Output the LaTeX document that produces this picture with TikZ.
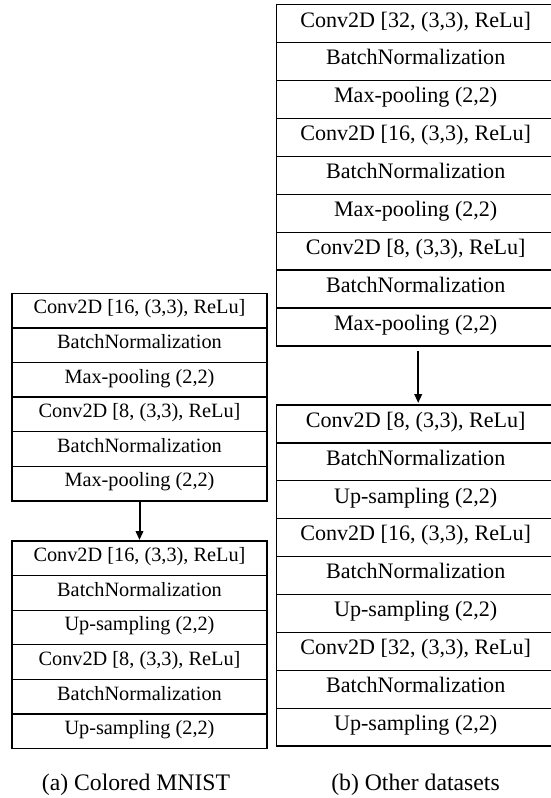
\documentclass[tikz,border=0pt]{standalone}
\usepackage{fontspec}
\setmainfont{Liberation Serif}
\usetikzlibrary{arrows.meta}
\begin{document}
\begin{tikzpicture}[x=1pt,y=-1pt,
  layer/.style={draw, line width=1.35pt, inner sep=0pt, outer sep=0pt,
    text height=0.72em, text depth=0.06em},
  rowA/.style={layer, minimum width=255pt, minimum height=34.6pt,
    font=\fontsize{20.3}{24}\selectfont},
  rowB/.style={layer, minimum width=278pt, minimum height=37.9pt,
    font=\fontsize{22.1}{26}\selectfont},
  flow/.style={-{Triangle[length=9pt,width=7.5pt]}, line width=2pt},
  caption/.style={anchor=base, inner sep=0pt, font=\fontsize{23.7}{28}\selectfont}]
\useasboundingbox (0,0) rectangle (551,798);

% (a) encoder
\foreach \t [count=\i] in {{Conv2D [16, (3,3), ReLu]}, BatchNormalization,
    {Max-pooling (2,2)}, {Conv2D [8, (3,3), ReLu]}, BatchNormalization,
    {Max-pooling (2,2)}}
  \node[rowA] (a\i) at (139.5, {293.3+(\i-0.5)*34.6}) {\t};
% (a) decoder
\foreach \t [count=\i] in {{Conv2D [16, (3,3), ReLu]}, BatchNormalization,
    {Up-sampling (2,2)}, {Conv2D [8, (3,3), ReLu]}, BatchNormalization,
    {Up-sampling (2,2)}}
  \node[rowA] (b\i) at (139.5, {541+(\i-0.5)*34.6}) {\t};

% (b) encoder
\foreach \t [count=\i] in {{Conv2D [32, (3,3), ReLu]}, BatchNormalization,
    {Max-pooling (2,2)}, {Conv2D [16, (3,3), ReLu]}, BatchNormalization,
    {Max-pooling (2,2)}, {Conv2D [8, (3,3), ReLu]}, BatchNormalization,
    {Max-pooling (2,2)}}
  \node[rowB] (c\i) at (415.7, {4.8+(\i-0.5)*37.9}) {\t};
% (b) decoder
\foreach \t [count=\i] in {{Conv2D [8, (3,3), ReLu]}, BatchNormalization,
    {Up-sampling (2,2)}, {Conv2D [16, (3,3), ReLu]}, BatchNormalization,
    {Up-sampling (2,2)}, {Conv2D [32, (3,3), ReLu]}, BatchNormalization,
    {Up-sampling (2,2)}}
  \node[rowB] (d\i) at (415.7, {405+(\i-0.5)*37.9}) {\t};

% encoder -> decoder
\draw[flow] (a6.south) -- ([yshift=1pt]b1.north);
\draw[flow] ([xshift=2.5pt,yshift=-5pt]c9.south) -- ([xshift=2.5pt,yshift=2pt]d1.north);

% sub-captions
\node[caption] (capa) at (136, 790) {(a) Colored MNIST};
\node[caption] (capb) at (415.5, 790) {(b) Other datasets};
\end{tikzpicture}
\end{document}
